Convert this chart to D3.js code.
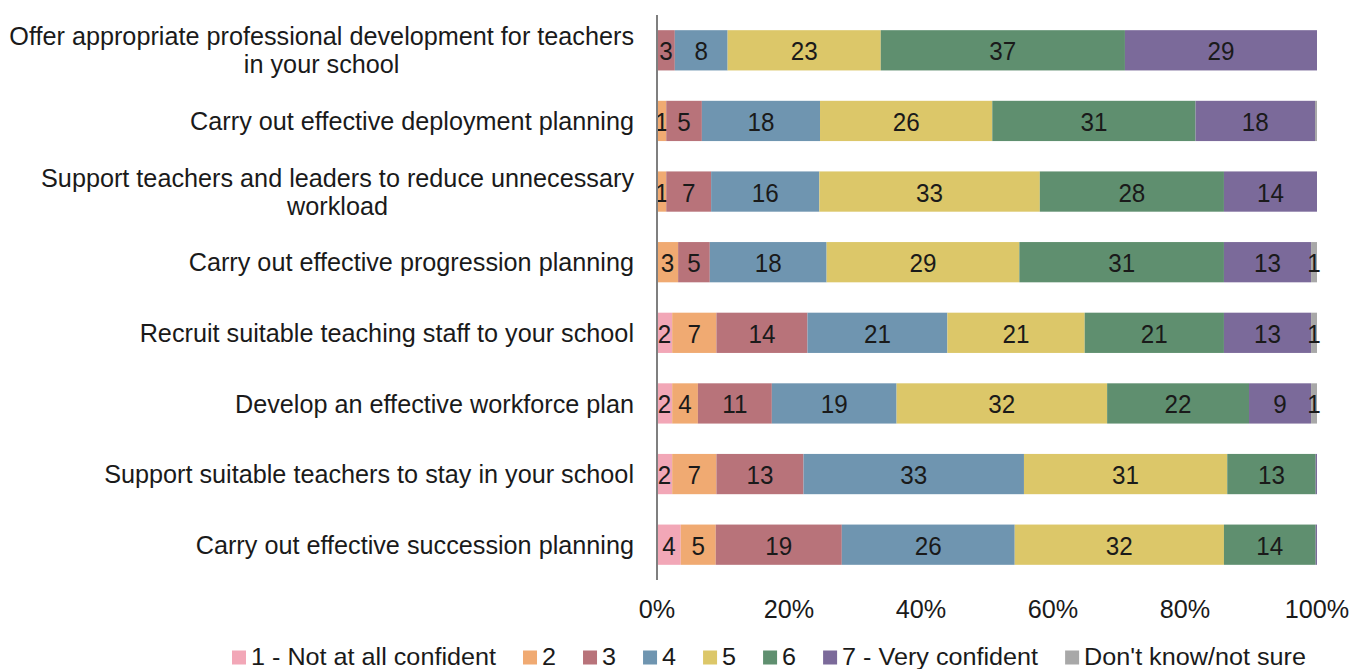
<!DOCTYPE html>
<html>
<head>
<meta charset="utf-8">
<script src="https://cdn.jsdelivr.net/npm/d3@7"></script>
<style>
  body { margin: 0; background: #fff; }
  text { font-family: "Liberation Sans", Arial, sans-serif; fill: #1a1a1a; }
</style>
</head>
<body>
<div id="main"></div>
<script>
var width = 1351,
    height = 669,
    sx = 0.97;   // the reference text is a touch narrow

// statements, top to bottom
var statements = [
    ["Offer appropriate professional development for teachers", "in your school"],
    ["Carry out effective deployment planning"],
    ["Support teachers and leaders to reduce unnecessary", "workload"],
    ["Carry out effective progression planning"],
    ["Recruit suitable teaching staff to your school"],
    ["Develop an effective workforce plan"],
    ["Support suitable teachers to stay in your school"],
    ["Carry out effective succession planning"]
];

var seriesNames = ["1 - Not at all confident", "2", "3", "4", "5", "6", "7 - Very confident", "Don't know/not sure"];
var colors = ["#f2a7b7", "#f0aa72", "#b8737a", "#6f95b0", "#dcc769", "#5f8f6f", "#7b6a9a", "#a8a8a8"];

// percentages per statement, one array per answer
var notAtAll  = [0,    0,    0,    0,    2.3,  2.3,  2.3,  3.6];
var two       = [0,    1.4,  1.4,  3.2,  6.7,  3.9,  6.7,  5.3];
var three     = [2.7,  5.4,  6.8,  4.8,  13.8, 11.2, 13.2, 19.1];
var four      = [8.0,  17.9, 16.4, 17.7, 21.2, 18.9, 33.4, 26.2];
var five      = [23.2, 26.1, 33.4, 29.2, 20.8, 31.9, 30.8, 31.7];
var six       = [37.0, 30.8, 27.9, 31.0, 21.1, 21.5, 13.4, 13.9];
var veryConf  = [29.1, 18.1, 14.1, 13.2, 13.2, 9.4,  0.2,  0.2];
var dontKnow  = [0,    0.3,  0,    0.9,  0.9,  0.9,  0,    0];

var xTicks = [0, 20, 40, 60, 80, 100];

var series = [notAtAll, two, three, four, five, six, veryConf, dontKnow];

var rows = statements.map(function(s, i) {
    var r = { id: i };
    seriesNames.forEach(function(n, j) { r[n] = series[j][i]; });
    return r;
});

var stacked = d3.stack().keys(seriesNames)(rows);

var svg = d3.select("div#main").append("svg")
    .attr("width", width)
    .attr("height", height);

var x = d3.scaleLinear().domain([0, 100]).range([657, 1317]);
var y = d3.scaleBand().domain(d3.range(statements.length)).range([15, 580]).paddingInner(0.43).paddingOuter(0.215);

// bars
var layer = svg.selectAll(".layer")
    .data(stacked)
    .enter().append("g")
    .attr("class", "layer")
    .attr("fill", function(d, i) { return colors[i]; });

layer.selectAll("rect")
    .data(function(d) { return d; })
    .enter().append("rect")
    .attr("x", function(d) { return x(d[0]); })
    .attr("y", function(d, i) { return y(i); })
    .attr("width", function(d) { return x(d[1]) - x(d[0]); })
    .attr("height", y.bandwidth());

// value labels, hidden where they round to 0
layer.selectAll("text")
    .data(function(d) { return d.filter(function(e) { return Math.round(e[1] - e[0]) > 0; }); })
    .enter().append("text")
    .attr("text-anchor", "middle")
    .attr("dy", "0.4em")
    .attr("font-size", 25)
    .attr("transform", function(d) {
        return "translate(" + x((d[0] + d[1]) / 2) + "," + (y(d.data.id) + y.bandwidth() / 2) + ") scale(" + sx + ",1)";
    })
    .text(function(d) { return Math.round(d[1] - d[0]); });

// vertical axis line
svg.append("line")
    .attr("x1", x(0)).attr("x2", x(0))
    .attr("y1", 15).attr("y2", 580)
    .attr("stroke", "#7f7f7f")
    .attr("stroke-width", 2);

// category labels
var cat = svg.selectAll(".cat")
    .data(statements)
    .enter().append("g")
    .attr("class", "cat")
    .attr("transform", function(d, i) { return "translate(0," + (y(i) + y.bandwidth() / 2) + ")"; });

cat.each(function(d) {
    var g = d3.select(this);
    if (d.length === 1) {
        g.append("text")
            .attr("text-anchor", "end")
            .attr("dy", "0.35em")
            .attr("font-size", 26)
            .attr("transform", "translate(634,0) scale(" + sx + ",1)")
            .text(d[0]);
    } else {
        var first = g.append("text")
            .attr("text-anchor", "end")
            .attr("dy", "0.35em")
            .attr("font-size", 26)
            .attr("transform", "translate(634,-14) scale(" + sx + ",1)")
            .text(d[0]);
        // second line sits centred under the first
        var w = first.node().getComputedTextLength() * sx;
        g.append("text")
            .attr("text-anchor", "middle")
            .attr("dy", "0.35em")
            .attr("font-size", 26)
            .attr("transform", "translate(" + (634 - w / 2) + ",14) scale(" + sx + ",1)")
            .text(d[1]);
    }
});

// x axis tick labels
svg.selectAll(".tick-label")
    .data(xTicks)
    .enter().append("text")
    .attr("class", "tick-label")
    .attr("text-anchor", "middle")
    .attr("dy", "0.35em")
    .attr("font-size", 26)
    .attr("transform", function(d) { return "translate(" + x(d) + ",609) scale(" + sx + ",1)"; })
    .text(function(d) { return d + "%"; });

// legend, laid out left to right
var leg = svg.append("g").attr("class", "legend");
var lx = 232, lsx = 1.05;
seriesNames.forEach(function(name, i) {
    var item = leg.append("g").attr("transform", "translate(" + lx + ",657.5)");
    item.append("rect")
        .attr("x", 0).attr("y", -7)
        .attr("width", 14).attr("height", 14)
        .attr("fill", colors[i]);
    var t = item.append("text")
        .attr("dy", "0.32em")
        .attr("font-size", 24)
        .attr("transform", "translate(19,0) scale(" + lsx + ",1)")
        .text(name);
    lx += 19 + t.node().getComputedTextLength() * lsx + 27;
});
</script>
</body>
</html>
